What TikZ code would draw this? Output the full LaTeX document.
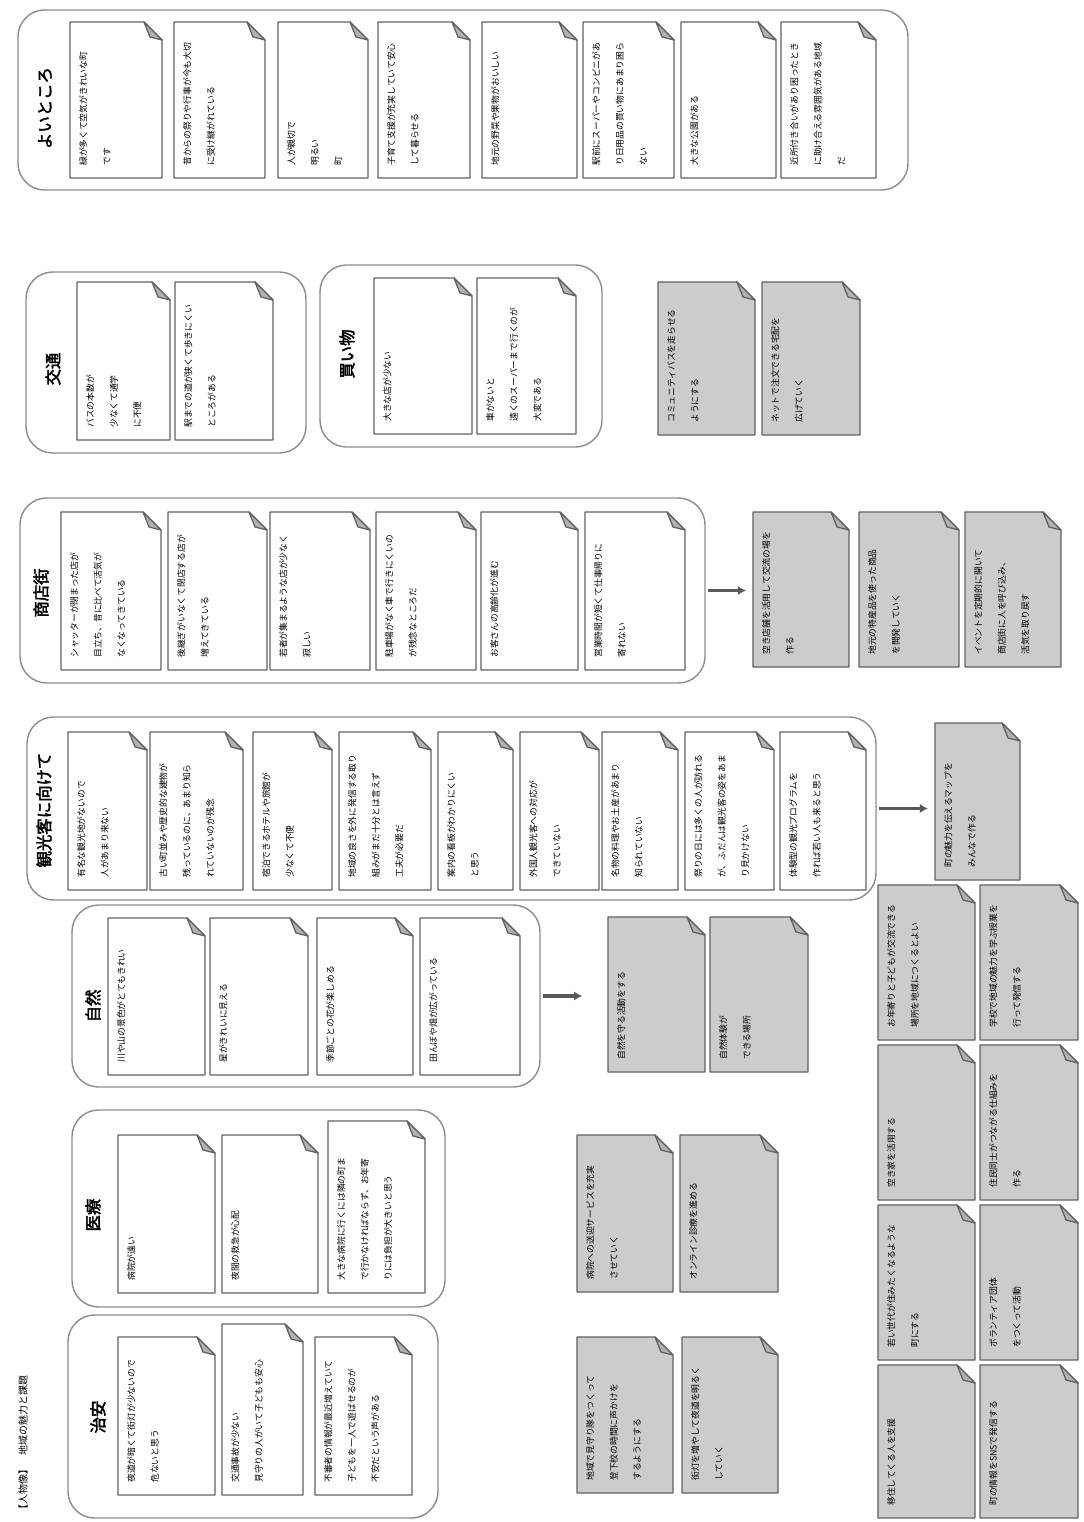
\documentclass[tikz,border=0pt]{standalone}
\usepackage{fontspec}
\newfontfamily\jp[AutoFakeBold=2.5]{Noto Sans CJK JP}
\usetikzlibrary{arrows.meta,fit}

\tikzset{
  cardline/.style={draw=black!62, line width=1.1pt, line join=round},
  cardtext/.style={rotate=90, anchor=north west, inner sep=0pt, align=left,
    font=\jp\fontsize{7.5}{20}\selectfont, text=black},
  groupbox/.style={draw=black!45, line width=1.2pt, rounded corners=0.8cm, inner sep=0pt},
  grouptitle/.style={rotate=90, inner sep=0pt, font=\jp\bfseries\fontsize{14}{16}\selectfont},
  heading/.style={rotate=90, anchor=west, inner sep=0pt, font=\jp\fontsize{8.5}{10}\selectfont},
  arr/.style={draw=black!65, line width=2.6pt, -{Latex[length=7pt,width=8pt]},
    shorten <=2pt, shorten >=6pt},
}

% カード: [塗り]{名前}{左}{上}{右}{下}{本文}
\newcommand{\card}[7][white]{%
  \draw[cardline, fill=#1] (#3,#4) -- ({#5-18},#4) -- (#5,{#4+18}) -- (#5,#6) -- (#3,#6) -- cycle;
  \draw[cardline, fill=black!30] ({#5-18},#4) -- ({#5-12},{#4+15}) -- (#5,{#4+18}) -- cycle;
  \coordinate (#2-w) at (#3,{(#4+#6)/2});
  \node[cardtext] (#2) at ({#3+9},{#6-12}) {#7};
}

\begin{document}
\begin{tikzpicture}[x=0.03cm,y=-0.03cm]
  \useasboundingbox (0,0) rectangle (1083,1522);
  % 見出し
  \node[heading] (lbl) at (23,1515) {【人物像】　地域の魅力と課題};
  % よいところ
  \node[groupbox, fit={(18,10) (908,190)}] (grpA) {};
  \node[grouptitle] (tA) at (45,108) {よいところ};
  \card{a1}{70}{22}{162}{178}{緑が多くて空気がきれいな町\\です}
  \card{a2}{174}{22}{265}{178}{昔からの祭りや行事が今も大切\\に受け継がれている}
  \card{a3}{278}{22}{368}{178}{人が親切で\\明るい\\町}
  \card{a4}{378}{22}{470}{178}{子育て支援が充実していて安心\\して暮らせる}
  \card{a5}{482}{22}{577}{178}{地元の野菜や果物がおいしい}
  \card{a6}{583}{22}{674}{178}{駅前にスーパーやコンビニがあ\\り日用品の買い物にあまり困ら\\ない}
  \card{a7}{681}{22}{776}{178}{大きな公園がある}
  \card{a8}{781}{22}{876}{178}{近所付き合いがあり困ったとき\\に助け合える雰囲気がある地域\\だ}
  % 交通
  \node[groupbox, fit={(26,272) (306,453)}] (grpB) {};
  \node[grouptitle] (tB) at (53,369) {交通};
  \card{b1}{77}{282}{170}{440}{バスの本数が\\少なくて通学\\に不便}
  \card{b2}{175}{282}{273}{440}{駅までの道が狭くて歩きにくい\\ところがある}
  % 買い物
  \node[groupbox, fit={(320,265) (602,447)}] (grpC) {};
  \node[grouptitle] (tC) at (347,354) {買い物};
  \card{c1}{374}{278}{472}{434}{大きな店が少ない}
  \card{c2}{477}{278}{576}{434}{車がないと\\遠くのスーパーまで行くのが\\大変である}
  \card[black!20]{pb1}{658}{282}{755}{435}{コミュニティバスを走らせる\\ようにする}
  \card[black!20]{pb2}{762}{282}{860}{435}{ネットで注文できる宅配を\\広げていく}
  % 商店街
  \node[groupbox, fit={(20,498) (705,683)}] (grpD) {};
  \node[grouptitle] (tD) at (41,593) {商店街};
  \card{d1}{61}{512}{161}{670}{シャッターが閉まった店が\\目立ち、昔に比べて活気が\\なくなってきている}
  \card{d2}{168}{512}{267}{670}{後継ぎがいなくて閉店する店が\\増えてきている}
  \card{d3}{270}{512}{370}{670}{若者が集まるような店が少なく\\寂しい}
  \card{d4}{376}{512}{476}{670}{駐車場がなく車で行きにくいの\\が残念なところだ}
  \card{d5}{481}{512}{578}{670}{お客さんの高齢化が進む}
  \card{d6}{585}{512}{685}{670}{営業時間が短くて仕事帰りに\\寄れない}
  \card[black!20]{pd1}{753}{512}{849}{667}{空き店舗を活用して交流の場を\\作る}
  \card[black!20]{pd2}{859}{512}{959}{667}{地元の特産品を使った商品\\を開発していく}
  \card[black!20]{pd3}{965}{512}{1061}{667}{イベントを定期的に開いて\\商店街に人を呼び込み、\\活気を取り戻す}
  \draw[arr] (grpD.east) -- (grpD.east -| pd1-w);
  % 観光客に向けて
  \node[groupbox, fit={(27,717) (876,900)}] (grpE) {};
  \node[grouptitle] (tE) at (44,810) {観光客に向けて};
  \card{e1}{68}{732}{147}{890}{有名な観光地がないので\\人があまり来ない}
  \card{e2}{150}{732}{243}{890}{古い町並みや歴史的な建物が\\残っているのに、あまり知ら\\れていないのが残念}
  \card{e3}{253}{732}{332}{890}{宿泊できるホテルや旅館が\\少なくて不便}
  \card{e4}{339}{732}{431}{890}{地域の良さを外に発信する取り\\組みがまだ十分とは言えず\\工夫が必要だ}
  \card{e5}{438}{732}{513}{890}{案内の看板がわかりにくい\\と思う}
  \card{e6}{520}{732}{599}{890}{外国人観光客への対応が\\できていない}
  \card{e7}{602}{732}{678}{890}{名物の料理やお土産があまり\\知られていない}
  \card{e8}{685}{732}{774}{890}{祭りの日には多くの人が訪れる\\が、ふだんは観光客の姿をあま\\り見かけない}
  \card{e9}{780}{732}{866}{890}{体験型の観光プログラムを\\作れば若い人も来ると思う}
  \card[black!20]{pe1}{935}{723}{1020}{880}{町の魅力を伝えるマップを\\みんなで作る}
  \draw[arr] (grpE.east) -- (grpE.east -| pe1-w);
  % 自然
  \node[groupbox, fit={(72,905) (540,1087)}] (grpF) {};
  \node[grouptitle] (tF) at (93,1006) {自然};
  \card{f1}{108}{918}{205}{1075}{川や山の景色がとてもきれい}
  \card{f2}{210}{918}{308}{1075}{星がきれいに見える}
  \card{f3}{317}{918}{413}{1075}{季節ごとの花が楽しめる}
  \card{f4}{420}{918}{520}{1075}{田んぼや畑が広がっている}
  \card[black!20]{pf1}{608}{917}{705}{1072}{自然を守る活動をする}
  \card[black!20]{pf2}{710}{917}{808}{1072}{自然体験が\\できる場所}
  \draw[arr, shorten >=22pt] (grpF.east) -- (grpF.east -| pf1-w);
  % 右下のまとめ
  \card[black!20]{q1}{878}{885}{975}{1040}{お年寄りと子どもが交流できる\\場所を地域につくるとよい}
  \card[black!20]{q2}{980}{885}{1078}{1040}{学校で地域の魅力を学ぶ授業を\\行って発信する}
  \card[black!20]{q3}{878}{1045}{975}{1200}{空き家を活用する}
  \card[black!20]{q4}{980}{1045}{1078}{1200}{住民同士がつながる仕組みを\\作る}
  \card[black!20]{q5}{878}{1205}{975}{1360}{若い世代が住みたくなるような\\町にする}
  \card[black!20]{q6}{980}{1205}{1078}{1360}{ボランティア団体\\をつくって活動}
  \card[black!20]{q7}{878}{1365}{975}{1518}{移住してくる人を支援}
  \card[black!20]{q8}{980}{1365}{1078}{1518}{町の情報をSNSで発信する}
  % 医療
  \node[groupbox, fit={(72,1110) (445,1307)}] (grpG) {};
  \node[grouptitle] (tG) at (93,1215) {医療};
  \card{m1}{118}{1135}{215}{1293}{病院が遠い}
  \card{m2}{222}{1135}{318}{1293}{夜間の救急が心配}
  \card{m3}{328}{1121}{425}{1293}{大きな病院に行くには隣の町ま\\で行かなければならず、お年寄\\りには負担が大きいと思う}
  \card[black!20]{pm1}{577}{1135}{673}{1292}{病院への送迎サービスを充実\\させていく}
  \card[black!20]{pm2}{680}{1135}{778}{1292}{オンライン診療を進める}
  % 治安
  \node[groupbox, fit={(68,1315) (438,1518)}] (grpH) {};
  \node[grouptitle] (tH) at (98,1417) {治安};
  \card{s1}{118}{1337}{215}{1495}{夜道が暗くて街灯が少ないので\\危ないと思う}
  \card{s2}{222}{1324}{303}{1495}{交通事故が少ない\\見守りの人がいて子どもも安心}
  \card{s3}{315}{1337}{412}{1495}{不審者の情報が最近増えていて\\子どもを一人で遊ばせるのが\\不安だという声がある}
  \card[black!20]{ps1}{577}{1337}{673}{1493}{地域で見守り隊をつくって\\登下校の時間に声かけを\\するようにする}
  \card[black!20]{ps2}{682}{1337}{778}{1493}{街灯を増やして夜道を明るく\\していく}
\end{tikzpicture}
\end{document}
